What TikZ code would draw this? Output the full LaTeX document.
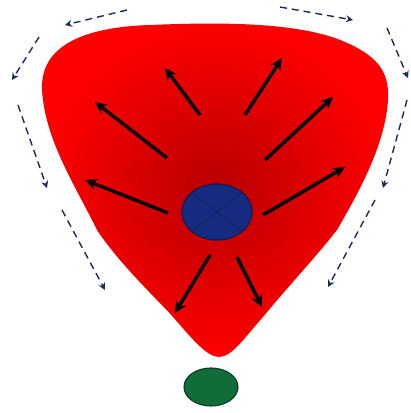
\documentclass[tikz,border=0pt]{standalone}
\usetikzlibrary{arrows.meta,calc}

\definecolor{coreblue}{RGB}{22,44,128}
\definecolor{corerim}{RGB}{14,28,86}
\definecolor{seedgreen}{RGB}{16,108,56}
\definecolor{seedrim}{RGB}{8,62,32}
\definecolor{flowblue}{RGB}{28,42,92}

\begin{document}
\begin{tikzpicture}[
    x=0.25mm,
    y=-0.25mm,
    push/.style={line width=2.4pt, -{Stealth[length=8.5pt,width=8pt]}},
    flow/.style={flowblue, line width=1pt, dash pattern=on 5pt off 3.5pt,
                 -{Stealth[length=5pt,width=5pt]}}
]

\useasboundingbox (0,0) rectangle (411,413);

% ============================================================
% Rote Tropfenform
% ============================================================

\shade[inner color=red!72!black, outer color=red]
    (263,317) .. controls (245,337) and (232,357) .. (219,357)
              .. controls (206,357) and (190,336) .. (173,317)
              .. controls (163,305) and (120,265) .. (97,230)
              .. controls (75,185) and (45,140) .. (42,90)
              .. controls (40,45) and (85,27) .. (150,25)
              .. controls (220,22) and (300,22) .. (345,42)
              .. controls (375,55) and (390,70) .. (388,100)
              .. controls (385,145) and (360,190) .. (337,230)
              .. controls (315,258) and (285,290) .. (263,317)
              -- cycle;

% ============================================================
% Kern und Keim
% ============================================================

\coordinate (core) at (217,212);
\coordinate (seed) at (211,387);

\filldraw[fill=coreblue, draw=corerim, thick]
    (core) ellipse [x radius=35, y radius=28];
\draw[corerim, thin]
    ($(core)+(-24,-19)$) -- ($(core)+(24,19)$)
    ($(core)+(-24,19)$) -- ($(core)+(24,-19)$);

\filldraw[fill=seedgreen, draw=seedrim, thick]
    (seed) ellipse [x radius=27, y radius=19];

% ============================================================
% Druckpfeile
% ============================================================

\draw[push] (200,115) -- (165,68);
\draw[push] (245,115) -- (282,58);
\draw[push] (167,158) -- (95,102);
\draw[push] (265,160) -- (333,97);
\draw[push] (168,213) -- (85,180);
\draw[push] (263,215) -- (345,167);
\draw[push] (210,255) -- (175,313);
\draw[push] (237,257) -- (262,307);

% ============================================================
% Umlaufpfeile (gestrichelt)
% ============================================================

\draw[flow] (127,10) -- (65,25);
\draw[flow] (39,37) -- (12,80);
\draw[flow] (18,105) -- (47,188);
\draw[flow] (62,210) -- (105,290);

\draw[flow] (280,7) -- (353,20);
\draw[flow] (387,28) -- (408,78);
\draw[flow] (407,100) -- (383,188);
\draw[flow] (375,200) -- (328,287);

\end{tikzpicture}
\end{document}
